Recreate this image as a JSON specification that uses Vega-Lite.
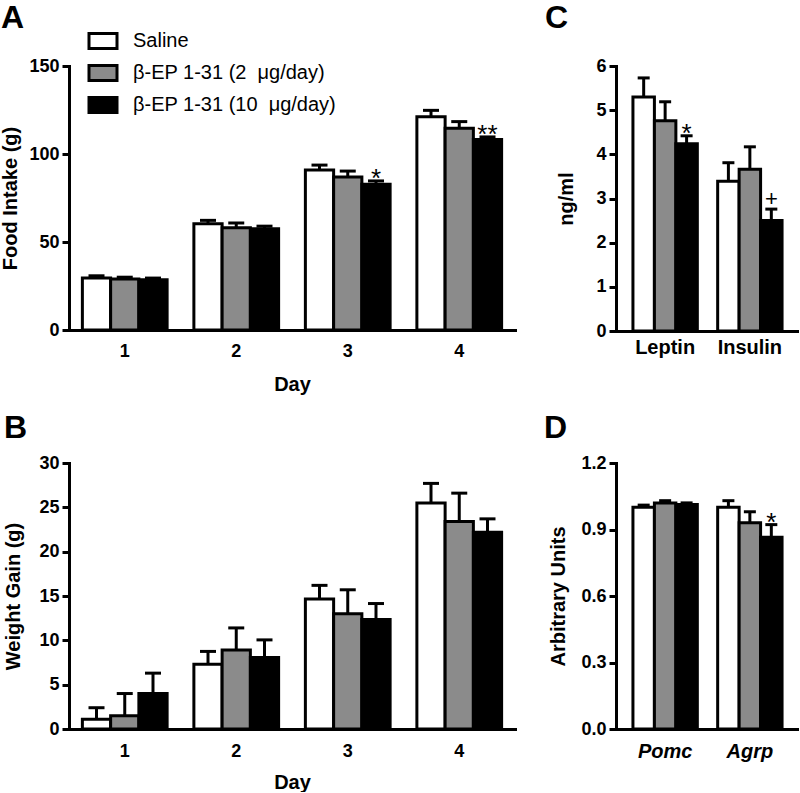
{
  "$schema": "https://vega.github.io/schema/vega-lite/v6.json",
  "padding": {"left": 0, "top": 2, "right": 0, "bottom": 0},
  "background": "white",
  "bounds": "flush",
  "columns": 2,
  "spacing": {"row": 132, "column": 101},
  "resolve": {"scale": {"fill": "independent", "xOffset": "independent", "x": "independent", "y": "independent"}, "legend": {"fill": "independent"}},
  "datasets": {
    "A": [
      {"cat": "1", "grp": "S", "mean": 29.5, "upper": 30.8},
      {"cat": "1", "grp": "L", "mean": 29.0, "upper": 30.0},
      {"cat": "1", "grp": "H", "mean": 28.5, "upper": 29.5},
      {"cat": "2", "grp": "S", "mean": 60.4, "upper": 62.3},
      {"cat": "2", "grp": "L", "mean": 58.1, "upper": 60.8},
      {"cat": "2", "grp": "H", "mean": 57.5, "upper": 59.0},
      {"cat": "3", "grp": "S", "mean": 90.9, "upper": 93.7},
      {"cat": "3", "grp": "L", "mean": 86.9, "upper": 90.3},
      {"cat": "3", "grp": "H", "mean": 82.8, "upper": 84.7, "sig": "*"},
      {"cat": "4", "grp": "S", "mean": 121.2, "upper": 124.8},
      {"cat": "4", "grp": "L", "mean": 114.6, "upper": 118.4},
      {"cat": "4", "grp": "H", "mean": 108.3, "upper": 109.7, "sig": "**"}
    ],
    "B": [
      {"cat": "1", "grp": "S", "mean": 1.1, "upper": 2.4},
      {"cat": "1", "grp": "L", "mean": 1.5, "upper": 4.0},
      {"cat": "1", "grp": "H", "mean": 4.0, "upper": 6.3},
      {"cat": "2", "grp": "S", "mean": 7.3, "upper": 8.75},
      {"cat": "2", "grp": "L", "mean": 8.9, "upper": 11.4},
      {"cat": "2", "grp": "H", "mean": 8.05, "upper": 10.05},
      {"cat": "3", "grp": "S", "mean": 14.65, "upper": 16.2},
      {"cat": "3", "grp": "L", "mean": 13.0, "upper": 15.7},
      {"cat": "3", "grp": "H", "mean": 12.35, "upper": 14.15},
      {"cat": "4", "grp": "S", "mean": 25.5, "upper": 27.7},
      {"cat": "4", "grp": "L", "mean": 23.4, "upper": 26.6},
      {"cat": "4", "grp": "H", "mean": 22.2, "upper": 23.7}
    ],
    "C": [
      {"cat": "Leptin", "grp": "S", "mean": 5.3, "upper": 5.73},
      {"cat": "Leptin", "grp": "L", "mean": 4.76, "upper": 5.19},
      {"cat": "Leptin", "grp": "H", "mean": 4.24, "upper": 4.42, "sig": "*"},
      {"cat": "Insulin", "grp": "S", "mean": 3.39, "upper": 3.81},
      {"cat": "Insulin", "grp": "L", "mean": 3.66, "upper": 4.17},
      {"cat": "Insulin", "grp": "H", "mean": 2.5, "upper": 2.76, "sig": "+"}
    ],
    "D": [
      {"cat": "Pomc", "grp": "S", "mean": 1.0, "upper": 1.01},
      {"cat": "Pomc", "grp": "L", "mean": 1.02, "upper": 1.03},
      {"cat": "Pomc", "grp": "H", "mean": 1.013, "upper": 1.02},
      {"cat": "Agrp", "grp": "S", "mean": 1.0, "upper": 1.03},
      {"cat": "Agrp", "grp": "L", "mean": 0.93, "upper": 0.98},
      {"cat": "Agrp", "grp": "H", "mean": 0.865, "upper": 0.922, "sig": "*"}
    ]
  },
  "concat": [
    {
      "width": 446, "height": 264,
      "data": {"name": "A"},
      "title": {"text": "A", "dx": -68, "offset": -4},
      "encoding": {
        "x": {"field": "cat", "type": "ordinal", "scale": {"paddingInner": 0.24, "paddingOuter": 0.12}, "axis": {"title": "Day", "labelPadding": 12, "titlePadding": 14}},
        "xOffset": {"field": "grp", "type": "nominal", "scale": {"domain": ["S", "L", "H"]}}
      },
      "layer": [
        {
          "mark": {"type": "bar", "stroke": "black", "strokeWidth": 3},
          "encoding": {
            "y": {"field": "mean", "type": "quantitative", "scale": {"domain": [0, 150], "nice": false}, "axis": {"title": "Food Intake (g)", "values": [0, 50, 100, 150], "titlePadding": 8}},
            "fill": {"field": "grp", "type": "nominal", "scale": {"domain": ["S", "L", "H"], "range": ["white", "#8b8b8b", "black"]},
              "legend": {"orient": "none", "legendX": 24, "legendY": -35, "title": null, "padding": 0, "symbolType": "M-1.75,-0.95H1.75V0.95H-1.75Z", "symbolSize": 256, "symbolStrokeWidth": 3, "symbolStrokeColor": "black", "labelFont": "Liberation Sans", "labelFontSize": 20, "labelFontWeight": "normal", "labelColor": "black", "labelOffset": 20, "labelLimit": 400, "rowPadding": 4,
                "labelExpr": "datum.value == 'S' ? 'Saline' : datum.value == 'L' ? 'β-EP 1-31 (2 \u00a0μg/day)' : 'β-EP 1-31 (10 \u00a0μg/day)'"}}
          }
        },
        {"mark": {"type": "rule", "strokeWidth": 3, "color": "black"}, "encoding": {"y": {"field": "mean", "type": "quantitative"}, "y2": {"field": "upper"}}},
        {"mark": {"type": "tick", "thickness": 3, "size": 16, "color": "black", "opacity": 1}, "encoding": {"y": {"field": "upper", "type": "quantitative"}}},
        {"transform": [{"filter": "isValid(datum.sig) && datum.sig != '+'"}], "mark": {"type": "text", "font": "Liberation Sans", "fontSize": 26, "baseline": "alphabetic", "dy": 6, "color": "black"}, "encoding": {"y": {"field": "upper", "type": "quantitative"}, "text": {"field": "sig"}}}
      ]
    },
    {
      "width": 183, "height": 265,
      "data": {"name": "C"},
      "title": {"text": "C", "dx": -71, "offset": 22},
      "encoding": {
        "x": {"field": "cat", "type": "ordinal", "scale": {"domain": ["Leptin", "Insulin"], "paddingInner": 0.24, "paddingOuter": 0.2}, "axis": {"title": null, "labelFontSize": 20, "labelPadding": 6}},
        "xOffset": {"field": "grp", "type": "nominal", "scale": {"domain": ["S", "L", "H"]}}
      },
      "layer": [
        {
          "mark": {"type": "bar", "stroke": "black", "strokeWidth": 3},
          "encoding": {
            "y": {"field": "mean", "type": "quantitative", "scale": {"domain": [0, 6], "nice": false}, "axis": {"title": "ng/ml", "values": [0, 1, 2, 3, 4, 5, 6], "titlePadding": 19}},
            "fill": {"field": "grp", "type": "nominal", "scale": {"domain": ["S", "L", "H"], "range": ["white", "#8b8b8b", "black"]}, "legend": null}
          }
        },
        {"mark": {"type": "rule", "strokeWidth": 3, "color": "black"}, "encoding": {"y": {"field": "mean", "type": "quantitative"}, "y2": {"field": "upper"}}},
        {"mark": {"type": "tick", "thickness": 3, "size": 12, "color": "black", "opacity": 1}, "encoding": {"y": {"field": "upper", "type": "quantitative"}}},
        {"transform": [{"filter": "isValid(datum.sig) && datum.sig != '+'"}], "mark": {"type": "text", "font": "Liberation Sans", "fontSize": 26, "baseline": "alphabetic", "dy": 6, "color": "black"}, "encoding": {"y": {"field": "upper", "type": "quantitative"}, "text": {"field": "sig"}}},
        {"transform": [{"filter": "datum.sig == '+'"}], "mark": {"type": "text", "font": "Liberation Sans", "fontSize": 22, "baseline": "alphabetic", "dy": -3, "color": "black"}, "encoding": {"y": {"field": "upper", "type": "quantitative"}, "text": {"field": "sig"}}}
      ]
    },
    {
      "width": 446, "height": 266,
      "data": {"name": "B"},
      "title": {"text": "B", "dx": -65, "offset": 9},
      "encoding": {
        "x": {"field": "cat", "type": "ordinal", "scale": {"paddingInner": 0.24, "paddingOuter": 0.12}, "axis": {"title": "Day", "labelPadding": 13, "titlePadding": 12}},
        "xOffset": {"field": "grp", "type": "nominal", "scale": {"domain": ["S", "L", "H"]}}
      },
      "layer": [
        {
          "mark": {"type": "bar", "stroke": "black", "strokeWidth": 3},
          "encoding": {
            "y": {"field": "mean", "type": "quantitative", "scale": {"domain": [0, 30], "nice": false}, "axis": {"title": "Weight Gain (g)", "values": [0, 5, 10, 15, 20, 25, 30], "titlePadding": 15}},
            "fill": {"field": "grp", "type": "nominal", "scale": {"domain": ["S", "L", "H"], "range": ["white", "#8b8b8b", "black"]}, "legend": null}
          }
        },
        {"mark": {"type": "rule", "strokeWidth": 3, "color": "black"}, "encoding": {"y": {"field": "mean", "type": "quantitative"}, "y2": {"field": "upper"}}},
        {"mark": {"type": "tick", "thickness": 3, "size": 16, "color": "black", "opacity": 1}, "encoding": {"y": {"field": "upper", "type": "quantitative"}}}
      ]
    },
    {
      "width": 183, "height": 266,
      "data": {"name": "D"},
      "title": {"text": "D", "dx": -72, "offset": 9},
      "encoding": {
        "x": {"field": "cat", "type": "ordinal", "scale": {"domain": ["Pomc", "Agrp"], "paddingInner": 0.24, "paddingOuter": 0.2}, "axis": {"title": null, "labelFontSize": 20, "labelFontStyle": "italic", "labelPadding": 12}},
        "xOffset": {"field": "grp", "type": "nominal", "scale": {"domain": ["S", "L", "H"]}}
      },
      "layer": [
        {
          "mark": {"type": "bar", "stroke": "black", "strokeWidth": 3},
          "encoding": {
            "y": {"field": "mean", "type": "quantitative", "scale": {"domain": [0, 1.2], "nice": false}, "axis": {"title": "Arbitrary Units", "values": [0, 0.3, 0.6, 0.9, 1.2], "format": ".1f", "titlePadding": 12}},
            "fill": {"field": "grp", "type": "nominal", "scale": {"domain": ["S", "L", "H"], "range": ["white", "#8b8b8b", "black"]}, "legend": null}
          }
        },
        {"mark": {"type": "rule", "strokeWidth": 3, "color": "black"}, "encoding": {"y": {"field": "mean", "type": "quantitative"}, "y2": {"field": "upper"}}},
        {"mark": {"type": "tick", "thickness": 3, "size": 12, "color": "black", "opacity": 1}, "encoding": {"y": {"field": "upper", "type": "quantitative"}}},
        {"transform": [{"filter": "isValid(datum.sig)"}], "mark": {"type": "text", "font": "Liberation Sans", "fontSize": 26, "baseline": "alphabetic", "dy": 6, "color": "black"}, "encoding": {"y": {"field": "upper", "type": "quantitative"}, "text": {"field": "sig"}}}
      ]
    }
  ],
  "config": {
    "view": {"stroke": null},
    "font": "Liberation Sans",
    "title": {"font": "Liberation Sans", "fontSize": 32, "fontWeight": "bold", "anchor": "start", "frame": "group", "color": "black"},
    "axis": {"domainColor": "black", "domainWidth": 3, "tickColor": "black", "tickWidth": 3, "tickSize": 7, "labelPadding": 3, "labelFont": "Liberation Sans", "labelFontSize": 18, "labelFontWeight": "bold", "labelColor": "black", "titleFont": "Liberation Sans", "titleFontSize": 20, "titleFontWeight": "bold", "titleColor": "black", "grid": false},
    "axisX": {"ticks": false, "tickSize": 0, "labelAngle": 0, "domainCap": "square"},
    "axisY": {"labelFlush": false, "domainCap": "square"}
  }
}
